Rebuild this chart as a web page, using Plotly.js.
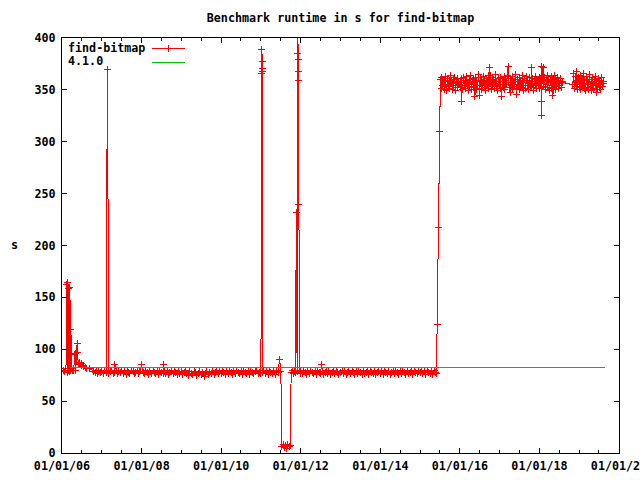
<!DOCTYPE html>
<html>
<head>
<meta charset="utf-8">
<script src="https://cdn.plot.ly/plotly-3.0.1.min.js"></script>
<style>
html,body{margin:0;padding:0;background:#fff;}
#chart{width:640px;height:480px;}
#chart .scatterlayer path, #chart .shapelayer path{shape-rendering:crispEdges;}
</style>
</head>
<body>
<div id="chart"></div>
<script>
// ---- data: decimal years and runtime in s ----
const fbYears = [
  2006.04, 2006.07, 2006.10, 2006.12, 2006.13, 2006.15, 2006.16, 2006.175, 2006.185, 2006.20, 2006.21, 2006.225, 2006.24, 2006.26, 2006.29, 2006.31, 2006.33, 2006.34, 2006.38, 2006.39, 2006.41, 2006.43, 2006.45, 2006.48, 2006.50, 2006.53, 2006.55, 2006.58, 2006.62, 2006.70, 2006.80, 2006.85, 2006.88, 2006.90, 2006.93, 2006.97,
  2007.00, 2007.04, 2007.07, 2007.11, 2007.14, 2007.18, 2007.21, 2007.25, 2007.29, 2007.32, 2007.33, 2007.36, 2007.39, 2007.43, 2007.46, 2007.50, 2007.54, 2007.57, 2007.61, 2007.64, 2007.68, 2007.71, 2007.75, 2007.79, 2007.82, 2007.86, 2007.89, 2007.93, 2007.96,
  2008.00, 2008.04, 2008.07, 2008.11, 2008.14, 2008.18, 2008.21, 2008.25, 2008.29, 2008.32, 2008.36, 2008.39, 2008.43, 2008.46, 2008.50, 2008.54, 2008.55, 2008.57, 2008.61, 2008.64, 2008.68, 2008.71, 2008.75, 2008.79, 2008.82, 2008.86, 2008.89, 2008.93, 2008.96,
  2009.00, 2009.04, 2009.07, 2009.11, 2009.14, 2009.18, 2009.21, 2009.25, 2009.29, 2009.32, 2009.36, 2009.39, 2009.43, 2009.46, 2009.50, 2009.54, 2009.57, 2009.61, 2009.64, 2009.68, 2009.71, 2009.75, 2009.79, 2009.82, 2009.86, 2009.89, 2009.93, 2009.96,
  2010.00, 2010.04, 2010.07, 2010.11, 2010.14, 2010.18, 2010.21, 2010.25, 2010.29, 2010.32, 2010.36, 2010.39, 2010.43, 2010.46, 2010.50, 2010.54, 2010.57, 2010.61, 2010.64, 2010.68, 2010.71, 2010.75, 2010.79, 2010.82, 2010.86, 2010.89, 2010.93, 2010.96,
  2011.00, 2011.02, 2011.025, 2011.03, 2011.035, 2011.04, 2011.05, 2011.07, 2011.11, 2011.14, 2011.18, 2011.21, 2011.25, 2011.29, 2011.32, 2011.36, 2011.39, 2011.43, 2011.47, 2011.50, 2011.53, 2011.56, 2011.59, 2011.62, 2011.65, 2011.68, 2011.71, 2011.74, 2011.76, 2011.79, 2011.82, 2011.85, 2011.87, 2011.89, 2011.91, 2011.925, 2011.93, 2011.935, 2011.94, 2011.945, 2011.955, 2011.97, 2011.99,
  2012.00, 2012.04, 2012.07, 2012.11, 2012.14, 2012.18, 2012.21, 2012.25, 2012.29, 2012.32, 2012.36, 2012.39, 2012.43, 2012.46, 2012.50, 2012.52, 2012.54, 2012.57, 2012.61, 2012.64, 2012.68, 2012.71, 2012.75, 2012.79, 2012.82, 2012.86, 2012.89, 2012.93, 2012.96,
  2013.00, 2013.04, 2013.07, 2013.11, 2013.14, 2013.18, 2013.21, 2013.25, 2013.29, 2013.32, 2013.36, 2013.39, 2013.43, 2013.46, 2013.50, 2013.54, 2013.57, 2013.61, 2013.64, 2013.68, 2013.71, 2013.75, 2013.79, 2013.82, 2013.86, 2013.89, 2013.93, 2013.96,
  2014.00, 2014.04, 2014.07, 2014.11, 2014.14, 2014.18, 2014.21, 2014.25, 2014.29, 2014.32, 2014.36, 2014.39, 2014.43, 2014.46, 2014.50, 2014.54, 2014.57, 2014.61, 2014.64, 2014.68, 2014.71, 2014.75, 2014.79, 2014.82, 2014.86, 2014.89, 2014.93, 2014.96,
  2015.00, 2015.04, 2015.07, 2015.11, 2015.14, 2015.18, 2015.21, 2015.25, 2015.29, 2015.32, 2015.36, 2015.39, 2015.41, 2015.43, 2015.455, 2015.48,
  2015.51, 2015.53, 2015.55, 2015.57, 2015.59, 2015.61, 2015.63, 2015.65, 2015.67, 2015.69, 2015.71, 2015.73, 2015.75, 2015.77, 2015.79, 2015.81, 2015.83, 2015.85, 2015.87, 2015.89, 2015.91, 2015.93, 2015.95, 2015.97, 2015.99,
  2016.01, 2016.03, 2016.04, 2016.05, 2016.07, 2016.09, 2016.11, 2016.13, 2016.15, 2016.17, 2016.19, 2016.21, 2016.23, 2016.25, 2016.27, 2016.29, 2016.31, 2016.33, 2016.35, 2016.37, 2016.38, 2016.39, 2016.41, 2016.43, 2016.45, 2016.47, 2016.49, 2016.50, 2016.51, 2016.53, 2016.55, 2016.57, 2016.59, 2016.61, 2016.63, 2016.65, 2016.67, 2016.69, 2016.71, 2016.73, 2016.75, 2016.77, 2016.79, 2016.81, 2016.83, 2016.85, 2016.87, 2016.89, 2016.91, 2016.93, 2016.95, 2016.97, 2016.99,
  2017.01, 2017.03, 2017.05, 2017.07, 2017.09, 2017.11, 2017.13, 2017.15, 2017.17, 2017.19, 2017.21, 2017.23, 2017.25, 2017.26, 2017.27, 2017.29, 2017.31, 2017.33, 2017.35, 2017.37, 2017.39, 2017.41, 2017.43, 2017.45, 2017.47, 2017.49, 2017.51, 2017.53, 2017.55, 2017.57, 2017.59, 2017.61, 2017.63, 2017.65, 2017.67, 2017.69, 2017.71, 2017.73, 2017.75, 2017.77, 2017.79, 2017.80, 2017.81, 2017.83, 2017.85, 2017.87, 2017.89, 2017.91, 2017.93, 2017.95, 2017.97, 2017.99,
  2018.01, 2018.03, 2018.04, 2018.05, 2018.055, 2018.06, 2018.07, 2018.09, 2018.11, 2018.13, 2018.15, 2018.17, 2018.19, 2018.21, 2018.23, 2018.25, 2018.27, 2018.29, 2018.31, 2018.33, 2018.34, 2018.35, 2018.37, 2018.39, 2018.41, 2018.43, 2018.45, 2018.47, 2018.49, 2018.51, 2018.53, 2018.55, 2018.57, 2018.59,
  2018.84, 2018.86, 2018.88, 2018.90, 2018.92, 2018.94, 2018.96, 2018.98,
  2019.00, 2019.02, 2019.04, 2019.06, 2019.08, 2019.10, 2019.12, 2019.14, 2019.16, 2019.18, 2019.20, 2019.22, 2019.24, 2019.26, 2019.28, 2019.30, 2019.32, 2019.34, 2019.36, 2019.38, 2019.40, 2019.42, 2019.43, 2019.44, 2019.46, 2019.48, 2019.50, 2019.52, 2019.54, 2019.56, 2019.58, 2019.60, 2019.61
];
const fbRuntime = [
  80, 79, 81, 162, 78, 164, 80, 159, 79, 160, 80, 119, 81, 80, 80, 95, 96, 80, 106, 97, 86, 87, 85, 86, 84, 83, 84, 82, 81, 81, 79, 78, 80, 77, 79, 78,
  79, 77, 80, 78, 370, 77, 79, 80, 77, 78, 85, 80, 77, 79, 78, 80, 77, 79, 76, 80, 78, 77, 80, 79, 77, 78, 80, 77, 79,
  85, 78, 77, 80, 78, 76, 79, 77, 80, 78, 77, 79, 76, 80, 78, 77, 85, 79, 77, 80, 76, 78, 79, 77, 80, 78, 76, 79, 77,
  79, 76, 78, 80, 77, 75, 79, 77, 76, 79, 78, 75, 77, 79, 76, 78, 74, 77, 79, 76, 78, 77, 79, 76, 78, 80, 77, 79,
  77, 80, 78, 76, 79, 77, 80, 78, 76, 79, 77, 80, 78, 77, 79, 76, 80, 78, 77, 79, 76, 80, 78, 77, 79, 80, 77, 78,
  77, 366, 389, 377, 371, 368, 78, 80, 77, 79, 76, 80, 78, 77, 79, 76, 80, 78, 90, 79, 6, 8, 5, 7, 4, 8, 6, 7, 78, 80, 77, 79, 78, 232, 79, 385, 404, 379, 368, 359, 240, 80, 77,
  79, 77, 80, 78, 76, 79, 77, 80, 78, 77, 79, 76, 80, 78, 77, 85, 79, 76, 78, 80, 77, 79, 76, 78, 80, 77, 79, 78, 76,
  78, 80, 77, 79, 76, 78, 80, 77, 79, 78, 76, 80, 77, 79, 78, 76, 80, 77, 78, 79, 76, 80, 78, 77, 79, 76, 78, 80,
  77, 79, 76, 80, 78, 77, 79, 76, 78, 80, 77, 79, 78, 76, 80, 77, 79, 78, 76, 80, 77, 78, 79, 76, 80, 78, 77, 79,
  78, 80, 77, 79, 76, 80, 78, 77, 79, 76, 80, 78, 77, 124, 217, 310,
  360, 351, 362, 354, 358, 350, 363, 355, 349, 361, 353, 359, 351, 364, 356, 350, 360, 354, 362, 349, 357, 361, 352, 358, 355,
  352, 361, 339, 357, 350, 362, 354, 359, 351, 363, 355, 349, 360, 353, 364, 350, 358, 361, 352, 357, 344, 362, 350, 359, 354, 365, 351, 345, 358, 362, 350, 356, 363, 352, 359, 349, 361, 355, 364, 351, 372, 357, 350, 362, 354, 360, 351, 365, 353, 358, 349, 361, 355,
  362, 351, 344, 358, 352, 363, 350, 359, 355, 364, 373, 357, 352, 347, 361, 354, 363, 350, 358, 353, 365, 351, 346, 360, 355, 362, 350, 359, 352, 364, 349, 357, 361, 351, 363, 354, 359, 350, 362, 353, 358, 372, 352, 361, 349, 360, 354, 363, 351, 358, 356, 362,
  351, 361, 352, 325, 339, 373, 359, 372, 353, 362, 350, 358, 364, 352, 360, 349, 357, 363, 351, 359, 345, 361, 353, 364, 350, 358, 362, 351, 359, 354, 361, 352, 358, 357,
  355, 366, 351, 363, 353, 368, 350, 362,
  352, 364, 350, 361, 354, 366, 351, 359, 349, 363, 352, 360, 350, 365, 353, 358, 349, 362, 351, 360, 354, 363, 347, 358, 350, 361, 352, 359, 350, 362, 353, 358, 356
];
const refYears = [2006.20, 2019.64];
const refRuntime = [82.5, 82.5];
const seriesNames = ['find-bitmap', '4.1.0'];
const xRangeYears = [2006, 2020];
const yRange = [0, 400];

if (fbYears.length !== fbRuntime.length) throw new Error('length mismatch ' + fbYears.length + ' vs ' + fbRuntime.length);

function yearToDate(y) {
  const yr = Math.floor(y);
  const s = Date.UTC(yr, 0, 1), e = Date.UTC(yr + 1, 0, 1);
  return new Date(s + (y - yr) * (e - s)).toISOString().slice(0, 19).replace('T', ' ');
}

const FONT = {family: 'DejaVu Sans Mono, monospace', size: 11.7, color: '#000', weight: 'bold'};
const RED = '#ff0000', GREEN = '#00c000';

const traces = [
  {
    type: 'scatter', mode: 'lines+markers', name: seriesNames[0],
    x: fbYears.map(yearToDate), y: fbRuntime,
    line: {color: RED, width: 1},
    marker: {symbol: 'cross-thin', size: 5, color: RED, line: {color: RED, width: 1}}
  },
  {
    type: 'scatter', mode: 'lines', name: seriesNames[1],
    x: refYears.map(yearToDate), y: refRuntime,
    line: {color: GREEN, width: 1}
  }
];

// plot area in px: left 62, right 619, top 38, bottom 453
const L = 62, R = 619, T = 38, B = 453;
const px = x => (x - L) / (R - L);
const py = y => (B - y) / (B - T);

const layout = {
  width: 640, height: 480,
  margin: {l: L, r: 640 - R, t: T, b: 480 - B, pad: 0},
  paper_bgcolor: '#fff', plot_bgcolor: '#fff',
  font: FONT,
  showlegend: false,
  title: {text: 'Benchmark runtime in s for find-bitmap', font: FONT, xref: 'paper', x: 0.5, xanchor: 'center', yref: 'container', y: 1 - 18 / 480, yanchor: 'middle'},
  xaxis: {
    type: 'date', range: xRangeYears.map(yearToDate),
    tick0: '2006-01-01', dtick: 'M24', tickformat: '%m/%d/%y',
    ticks: 'inside', ticklen: 5, tickcolor: '#000', tickwidth: 1,
    showline: true, linecolor: '#000', linewidth: 1, mirror: 'allticks',
    showgrid: false, zeroline: false, tickfont: FONT,
    ticklabeloverflow: 'allow', ticklabelstandoff: 2,
    minor: {dtick: 'M6', ticks: 'inside', ticklen: 3, tickcolor: '#000', showgrid: false}
  },
  yaxis: {
    range: yRange, dtick: 50, tick0: 0,
    ticks: 'inside', ticklen: 5, tickcolor: '#000', tickwidth: 1,
    showline: true, linecolor: '#000', linewidth: 1, mirror: 'allticks',
    showgrid: false, zeroline: false, tickfont: FONT,
    ticklabelstandoff: 3
  },
  annotations: [
    {text: 's', xref: 'paper', yref: 'paper', x: px(14), y: py(245), xanchor: 'center', yanchor: 'middle', showarrow: false, font: FONT},
    {text: seriesNames[0], xref: 'paper', yref: 'paper', x: px(66), y: py(47.5), xanchor: 'left', yanchor: 'middle', showarrow: false, font: FONT},
    {text: seriesNames[1], xref: 'paper', yref: 'paper', x: px(66), y: py(61.5), xanchor: 'left', yanchor: 'middle', showarrow: false, font: FONT}
  ],
  shapes: [
    {type: 'line', xref: 'paper', yref: 'paper', x0: px(152), x1: px(185), y0: py(48), y1: py(48), line: {color: RED, width: 1}},
    {type: 'line', xref: 'paper', yref: 'paper', x0: px(168.5), x1: px(168.5), y0: py(44.5), y1: py(51.5), line: {color: RED, width: 1}},
    {type: 'line', xref: 'paper', yref: 'paper', x0: px(152), x1: px(185), y0: py(62), y1: py(62), line: {color: GREEN, width: 1}}
  ]
};

Plotly.newPlot('chart', traces, layout, {staticPlot: true, displayModeBar: false});
</script>
</body>
</html>
